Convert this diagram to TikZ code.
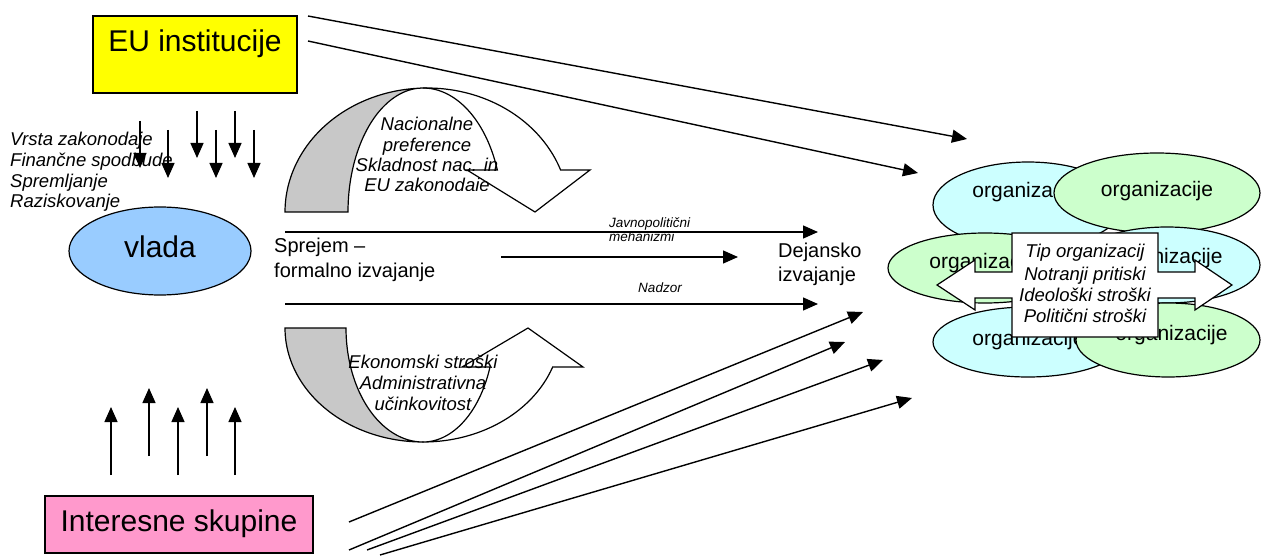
\documentclass[tikz,border=0pt]{standalone}
\usepackage{fontspec}
\setmainfont{Liberation Sans}
\usetikzlibrary{arrows.meta,shapes.geometric}

\definecolor{euyellow}{HTML}{FFFF00}
\definecolor{grouppink}{HTML}{FF99CC}
\definecolor{govblue}{HTML}{99CCFF}
\definecolor{orgcyan}{HTML}{CCFFFF}
\definecolor{orggreen}{HTML}{CCFFCC}
\definecolor{ribbon}{HTML}{C8C8C8}

\tikzset{
  bigtxt/.style={font=\fontsize{30}{36}\selectfont, inner sep=0pt},
  midtxt/.style={font=\fontsize{20}{24}\selectfont, inner sep=0pt},
  ittxt/.style={font=\fontsize{18.5}{22}\selectfont\itshape, inner sep=0pt},
  smalltxt/.style={font=\fontsize{13.5}{16}\selectfont\itshape, inner sep=0pt},
  orgtxt/.style={font=\fontsize{21}{25}\selectfont, inner sep=0pt},
  actorbox/.style={draw=black, line width=1.4pt},
  orgshape/.style={ellipse, draw=black, line width=1.2pt, inner sep=0pt},
  arr/.style={line width=1.4pt, -{Triangle[length=15pt,width=13pt]}},
  shape line/.style={draw=black, line width=1.2pt, line join=miter},
}

\begin{document}
\begin{tikzpicture}[x=1pt,y=-1pt]
\useasboundingbox (0,0) rectangle (1261,556);

% --- actors -------------------------------------------------------------
\filldraw[actorbox, fill=euyellow] (93,16) rectangle (297,93);
\node[bigtxt, anchor=base] (eu) at (195,52) {EU institucije};

\filldraw[actorbox, fill=grouppink] (45,496) rectangle (313,553);
\node[bigtxt, anchor=base] (groups) at (179,531) {Interesne skupine};

\node[ellipse, draw=black, line width=1.2pt, fill=govblue,
      minimum width=182pt, minimum height=88pt, inner sep=0pt] (gov) at (160,251) {};
\node[bigtxt, anchor=base] (govtxt) at (160,258) {vlada};

% --- instruments of the EU ----------------------------------------------
\foreach \t/\y [count=\i] in {Vrsta zakonodaje/146, Finančne spodbude/167,
                              Spremljanje/188, Raziskovanje/208}
  \node[ittxt, anchor=base west] (instr\i) at (10,\y) {\t};

\foreach \x/\a/\b [count=\i] in {140/121/168, 168/130/178, 197/111/158,
                                 216/130/178, 235/111/158, 254/130/178} {
  \coordinate (dn\i s) at (\x,\a);
  \coordinate (dn\i e) at (\x,\b);
  \draw[arr] (dn\i s) -- (dn\i e);
}

\foreach \x/\a/\b [count=\i] in {111/475/407, 149/456/388, 178/475/407,
                                 207/456/388, 235/475/407} {
  \coordinate (up\i s) at (\x,\a);
  \coordinate (up\i e) at (\x,\b);
  \draw[arr] (up\i s) -- (up\i e);
}

% --- upper curved ribbon arrow -------------------------------------------
\filldraw[shape line, fill=ribbon]
  plot[domain=180:90, samples=60] ({427+142*cos(\x)},{212-124*sin(\x)})
  -- plot[domain=90:180, samples=60] ({423+75*cos(\x)},{212-124*sin(\x)})
  -- cycle;
\filldraw[shape line, fill=white]
  plot[domain=90:19.8, samples=60] ({427+142*cos(\x)},{212-124*sin(\x)})
  -- (590,170) -- (535,212) -- (467,170)
  -- plot[domain=19.8:90, samples=60] ({423+79*cos(\x)},{212-124*sin(\x)})
  -- cycle;
\begin{scope}
  \clip (330,95) rectangle (530,190.5);
  \foreach \t/\y [count=\i] in {Nacionalne/131, preference/151.3,
                                {Skladnost nac. in}/171.6, {EU zakonodaje}/192}
    \node[ittxt, anchor=base] (pref\i) at (427,\y) {\t};
\end{scope}

% --- lower curved ribbon arrow -------------------------------------------
\filldraw[shape line, fill=ribbon]
  plot[domain=180:90, samples=60] ({423+138*cos(\x)},{328+114*sin(\x)})
  -- plot[domain=90:180, samples=60] ({423+77*cos(\x)},{328+114*sin(\x)})
  -- cycle;
\filldraw[shape line, fill=white]
  plot[domain=90:20, samples=60] ({423+138*cos(\x)},{328+114*sin(\x)})
  -- (583,367) -- (528,328) -- (462,367)
  -- plot[domain=20:90, samples=60] ({423+71.3*cos(\x)},{328+114*sin(\x)})
  -- cycle;
\foreach \t/\y [count=\i] in {Ekonomski stroški/368, Administrativna/389,
                              učinkovitost/410}
  \node[ittxt, anchor=base] (cost\i) at (423,\y) {\t};

% --- from formal to actual implementation -------------------------------
\node[midtxt, anchor=base west] (formal1) at (274,253) {Sprejem –};
\node[midtxt, anchor=base west] (formal2) at (274,277) {formalno izvajanje};
\node[midtxt, anchor=base west] (actual1) at (778,258) {Dejansko};
\node[midtxt, anchor=base west] (actual2) at (778,281) {izvajanje};

\node[smalltxt, anchor=base west] (mech1) at (609,228) {Javnopolitični};
\node[smalltxt, anchor=base west] (mech2) at (609,241) {mehanizmi};
\node[smalltxt, anchor=base] (control) at (660,292) {Nadzor};

\coordinate (m1s) at (285,232);  \coordinate (m1e) at (818,232);
\coordinate (m2s) at (501,257);  \coordinate (m2e) at (738,257);
\coordinate (m3s) at (285,304);  \coordinate (m3e) at (818,304);
\draw[arr] (m1s) -- (m1e);
\draw[arr] (m2s) -- (m2e);
\draw[arr] (m3s) -- (m3e);

% --- long influence lines -----------------------------------------------
\coordinate (eu1s) at (308,16);  \coordinate (eu1e) at (967,139);
\coordinate (eu2s) at (308,41);  \coordinate (eu2e) at (918,173);
\draw[arr] (eu1s) -- (eu1e);
\draw[arr] (eu2s) -- (eu2e);

\coordinate (ig1s) at (349,522); \coordinate (ig1e) at (863,312);
\coordinate (ig2s) at (349,550); \coordinate (ig2e) at (845,342);
\coordinate (ig3s) at (367,550); \coordinate (ig3e) at (883,360);
\coordinate (ig4s) at (380,555); \coordinate (ig4e) at (912,398);
\foreach \i in {1,...,4}
  \draw[arr] (ig\i s) -- (ig\i e);

% --- organisations -------------------------------------------------------
\node[orgshape, fill=orgcyan, minimum width=190pt, minimum height=86pt] (org1) at (1028,205) {};
\node[orgtxt, anchor=base] (org1t) at (1028.5,198) {organizacije};
\node[orgshape, fill=orggreen, minimum width=206pt, minimum height=80pt] (org2) at (1157,193) {};
\node[orgtxt, anchor=base] (org2t) at (1157,197) {organizacije};
\node[orgshape, fill=orggreen, minimum width=194pt, minimum height=70pt] (org3) at (985,268) {};
\node[orgtxt, anchor=base] (org3t) at (985.5,268) {organizacije};
\node[orgshape, fill=orgcyan, minimum width=186pt, minimum height=76pt] (org4) at (1167,265) {};
\node[orgtxt, anchor=base] (org4t) at (1166.5,263) {organizacije};
\node[orgshape, fill=orgcyan, minimum width=190pt, minimum height=70pt] (org5) at (1028,342) {};
\node[orgtxt, anchor=base] (org5t) at (1028.5,345) {organizacije};
\node[orgshape, fill=orggreen, minimum width=184pt, minimum height=74pt] (org6) at (1168,340) {};
\node[orgtxt, anchor=base] (org6t) at (1171.5,340) {organizacije};

% two-way callout over the organisations
\filldraw[shape line, fill=white]
  (1012,233) -- (1158,233) -- (1158,272) -- (1195,272) -- (1195,260)
  -- (1232,285) -- (1195,310) -- (1195,298) -- (1158,298) -- (1158,337)
  -- (1012,337) -- (1012,298) -- (975,298) -- (975,310) -- (937,285)
  -- (975,260) -- (975,272) -- (1012,272) -- cycle;
\foreach \t/\y [count=\i] in {Tip organizacij/258, Notranji pritiski/280,
                              Ideološki stroški/301, Politični stroški/322}
  \node[ittxt, anchor=base] (factor\i) at (1085,\y) {\t};

\end{tikzpicture}
\end{document}
